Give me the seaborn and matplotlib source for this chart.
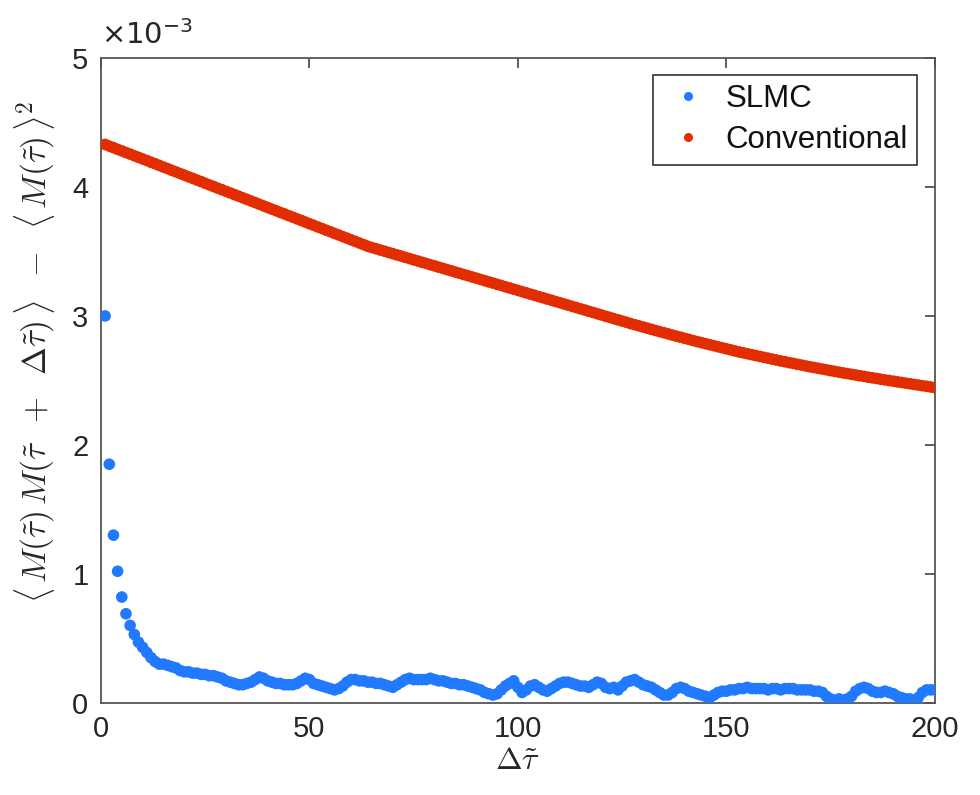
import numpy as np
import pandas as pd
import matplotlib
matplotlib.use("Agg")
import matplotlib.pyplot as plt
import seaborn as sns
from matplotlib.lines import Line2D

# ---------------- data (values in units of 1e-3) ----------------
dtau = list(range(1, 201))

slmc = [
    3.00, 1.85, 1.30, 1.02, 0.82, 0.69, 0.60, 0.53, 0.47, 0.43,
    0.39, 0.35, 0.32, 0.30, 0.30, 0.29, 0.28, 0.27, 0.25, 0.24,
    0.24, 0.23, 0.23, 0.22, 0.22, 0.21, 0.21, 0.20, 0.19, 0.17,
    0.16, 0.15, 0.14, 0.14, 0.15, 0.16, 0.18, 0.20, 0.19, 0.17,
    0.16, 0.15, 0.15, 0.14, 0.14, 0.14, 0.15, 0.17, 0.19, 0.18,
    0.15, 0.14, 0.13, 0.12, 0.11, 0.10, 0.11, 0.13, 0.16, 0.18,
    0.18, 0.17, 0.17, 0.16, 0.16, 0.15, 0.15, 0.14, 0.13, 0.12,
    0.14, 0.16, 0.18, 0.19, 0.18, 0.18, 0.18, 0.18, 0.19, 0.18,
    0.17, 0.17, 0.16, 0.15, 0.15, 0.14, 0.14, 0.13, 0.12, 0.11,
    0.10, 0.08, 0.07, 0.06, 0.07, 0.10, 0.13, 0.15, 0.17, 0.12,
    0.08, 0.10, 0.13, 0.14, 0.12, 0.10, 0.09, 0.11, 0.13, 0.15,
    0.16, 0.16, 0.15, 0.14, 0.13, 0.13, 0.12, 0.14, 0.16, 0.15,
    0.12, 0.11, 0.12, 0.10, 0.13, 0.16, 0.17, 0.18, 0.16, 0.14,
    0.13, 0.12, 0.10, 0.08, 0.06, 0.06, 0.08, 0.11, 0.12, 0.11,
    0.09, 0.08, 0.07, 0.06, 0.05, 0.04, 0.06, 0.08, 0.09, 0.09,
    0.10, 0.10, 0.11, 0.11, 0.12, 0.11, 0.11, 0.11, 0.11, 0.10,
    0.11, 0.11, 0.10, 0.11, 0.11, 0.11, 0.10, 0.10, 0.10, 0.10,
    0.09, 0.09, 0.08, 0.05, 0.03, 0.02, 0.03, 0.02, 0.03, 0.05,
    0.09, 0.11, 0.12, 0.11, 0.09, 0.08, 0.08, 0.09, 0.08, 0.07,
    0.05, 0.04, 0.03, 0.03, 0.01, 0.04, 0.08, 0.10, 0.10, 0.10,
]

conventional = [
    4.330, 4.317, 4.305, 4.292, 4.280, 4.267, 4.255, 4.242, 4.230, 4.217,
    4.205, 4.192, 4.180, 4.167, 4.154, 4.142, 4.129, 4.117, 4.104, 4.092,
    4.079, 4.067, 4.054, 4.042, 4.029, 4.016, 4.004, 3.991, 3.979, 3.966,
    3.954, 3.941, 3.929, 3.916, 3.904, 3.891, 3.879, 3.866, 3.853, 3.841,
    3.828, 3.816, 3.803, 3.791, 3.778, 3.766, 3.753, 3.741, 3.728, 3.715,
    3.703, 3.690, 3.678, 3.665, 3.653, 3.640, 3.628, 3.615, 3.603, 3.590,
    3.578, 3.565, 3.553, 3.540, 3.530, 3.521, 3.511, 3.502, 3.492, 3.483,
    3.473, 3.464, 3.454, 3.445, 3.435, 3.426, 3.416, 3.407, 3.397, 3.388,
    3.378, 3.369, 3.359, 3.350, 3.340, 3.331, 3.321, 3.312, 3.302, 3.293,
    3.283, 3.274, 3.264, 3.255, 3.245, 3.236, 3.226, 3.217, 3.207, 3.198,
    3.188, 3.179, 3.169, 3.160, 3.150, 3.141, 3.131, 3.122, 3.112, 3.103,
    3.093, 3.084, 3.074, 3.065, 3.055, 3.046, 3.036, 3.027, 3.017, 3.008,
    2.998, 2.989, 2.979, 2.970, 2.960, 2.951, 2.941, 2.932, 2.923, 2.914,
    2.905, 2.896, 2.887, 2.878, 2.870, 2.861, 2.852, 2.843, 2.835, 2.826,
    2.818, 2.809, 2.801, 2.793, 2.785, 2.777, 2.769, 2.761, 2.753, 2.745,
    2.737, 2.729, 2.721, 2.714, 2.707, 2.700, 2.693, 2.686, 2.679, 2.672,
    2.665, 2.658, 2.651, 2.645, 2.638, 2.632, 2.625, 2.619, 2.612, 2.606,
    2.600, 2.594, 2.588, 2.582, 2.576, 2.570, 2.564, 2.558, 2.553, 2.547,
    2.542, 2.536, 2.531, 2.525, 2.520, 2.515, 2.509, 2.504, 2.499, 2.494,
    2.489, 2.484, 2.479, 2.474, 2.469, 2.464, 2.459, 2.454, 2.449, 2.444,
]

series_names = ["SLMC", "Conventional"]
series_colors = ["#2179FF", "#E22D00"]
x_ticks = [0, 50, 100, 150, 200]
y_ticks = [0, 1, 2, 3, 4, 5]

# ---------------- figure ----------------
sns.set_style("white")
plt.rcParams["font.family"] = ["Liberation Sans", "DejaVu Sans"]
plt.rcParams["mathtext.fontset"] = "cm"

df = pd.concat([
    pd.DataFrame({"dtau": dtau, "val": slmc, "series": series_names[0]}),
    pd.DataFrame({"dtau": dtau, "val": conventional, "series": series_names[1]}),
])

fig = plt.figure(figsize=(9.8, 7.95), dpi=100)
ax = fig.add_axes([0.103, 0.116, 0.851, 0.811])

sns.scatterplot(data=df, x="dtau", y="val", hue="series",
                palette=dict(zip(series_names, series_colors)),
                s=70, linewidth=0, ax=ax, legend=False, zorder=3)

ax.set_xlim(0, 200)
ax.set_ylim(0, 5)
ax.set_xticks(x_ticks)
ax.set_yticks(y_ticks)
ax.set_xticklabels([str(t) for t in x_ticks])
ax.set_yticklabels([str(t) for t in y_ticks])

for sp in ax.spines.values():
    sp.set_visible(True)
    sp.set_color("#555555")
    sp.set_linewidth(1.3)

ax.tick_params(axis="both", which="both", direction="in", length=7, width=1.1,
               color="#333333", top=True, right=True, labelsize=21,
               labelcolor="#262626")
ax.tick_params(axis="x", pad=9)
ax.tick_params(axis="y", pad=9)

ax.set_xlabel(r"$\Delta\tilde{\tau}$", fontsize=23, labelpad=2, color="#262626")
ax.set_ylabel(r"$\langle\, M(\tilde{\tau})\, M(\tilde{\tau}\;\;+\;\;\Delta\tilde{\tau})\,\rangle"
              r"\;\;-\;\;\langle\, M(\tilde{\tau})\,\rangle^2$",
              fontsize=24, color="#262626")
ax.yaxis.set_label_coords(-0.053, 0.544)

ax.text(0.0, 1.012, r"$\times10^{-3}$", transform=ax.transAxes, fontsize=21,
        ha="left", va="bottom", color="#262626",
        math_fontfamily="dejavusans")

handles = [Line2D([], [], linestyle="none", marker="o", markersize=6.5,
                  markerfacecolor=c, markeredgewidth=0) for c in series_colors]
leg = ax.legend(handles, series_names, loc="upper right", fontsize=22.5,
                frameon=True, fancybox=False, framealpha=1, edgecolor="#222222",
                borderpad=0.3, handletextpad=0.4, labelspacing=0.35,
                handlelength=1.6, borderaxespad=0,
                bbox_to_anchor=(0.9784, 0.9736))
leg.get_frame().set_linewidth(1.1)
for t in leg.get_texts():
    t.set_color("#111111")

fig.savefig("out.png", dpi=100)
